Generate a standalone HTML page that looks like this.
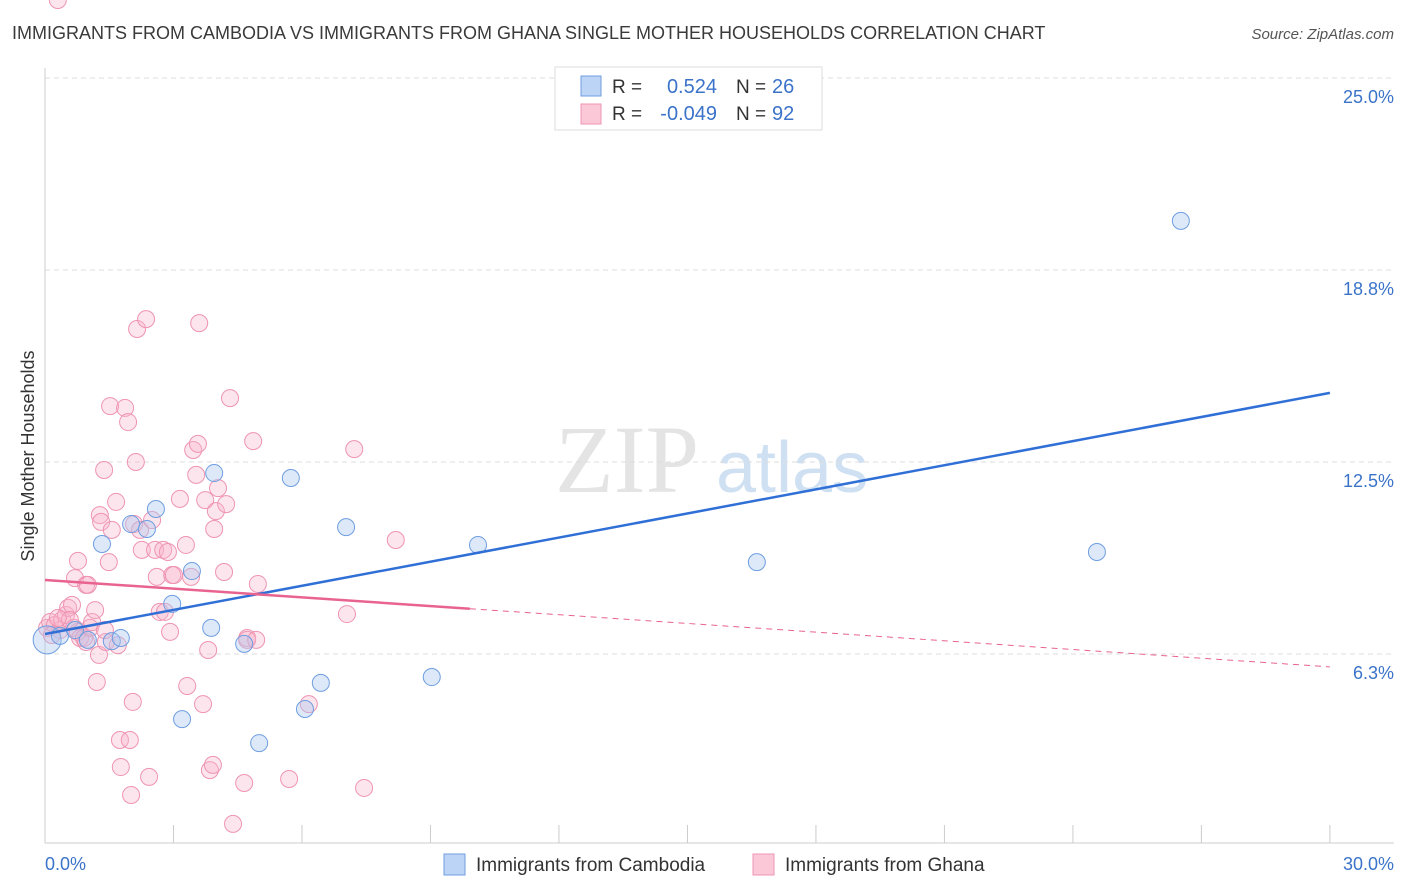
<!DOCTYPE html>
<html><head><meta charset="utf-8"><style>
body{margin:0;background:#fff;font-family:"Liberation Sans",sans-serif;}
svg{display:block}
</style></head><body>
<svg width="1406" height="892">
<text x="12" y="39" font-size="18" fill="#3a3a3a">IMMIGRANTS FROM CAMBODIA VS IMMIGRANTS FROM GHANA SINGLE MOTHER HOUSEHOLDS CORRELATION CHART</text>
<text x="1394" y="39" font-size="15" fill="#555" font-style="italic" text-anchor="end">Source: ZipAtlas.com</text>
<text x="555" y="492" font-size="96" fill="#e4e4e4" font-family="Liberation Serif">ZIP</text>
<text x="716" y="492" font-size="72" fill="#cfe0f3">atlas</text>
<g id="grid"></g>
<g id="axes"></g>
<g id="pink"></g>
<g id="blue"></g>
<g id="lines"></g>
<text transform="translate(34,456) rotate(-90)" font-size="18" fill="#333" text-anchor="middle">Single Mother Households</text>
<text x="45" y="870" font-size="18" fill="#3b73c9">0.0%</text>
<text x="1394" y="870" font-size="18" fill="#3b73c9" text-anchor="end">30.0%</text>
<g>
<rect x="555" y="67" width="267" height="63" fill="#fff" stroke="#ddd"/>
<rect x="581" y="76" width="20" height="20" fill="#bcd4f5" stroke="#6f9ee0"/>
<rect x="581" y="104" width="20" height="20" fill="#fbc8d8" stroke="#ee94b2"/>
<text x="612" y="93" font-size="19" fill="#333">R = </text><text x="717" y="93" font-size="20" fill="#3b73c9" text-anchor="end">0.524</text>
<text x="736" y="93" font-size="19" fill="#333">N = </text><text x="772" y="93" font-size="20" fill="#3b73c9">26</text>
<text x="612" y="120" font-size="19" fill="#333">R = </text><text x="717" y="120" font-size="20" fill="#3b73c9" text-anchor="end">-0.049</text>
<text x="736" y="120" font-size="19" fill="#333">N = </text><text x="772" y="120" font-size="20" fill="#3b73c9">92</text>
</g>
<g>
<rect x="444" y="854" width="21" height="21" fill="#bcd4f5" stroke="#6f9ee0"/>
<text x="476" y="871" font-size="19" fill="#333">Immigrants from Cambodia</text>
<rect x="753" y="854" width="21" height="21" fill="#fbc8d8" stroke="#ee94b2"/>
<text x="785" y="871" font-size="19" fill="#333">Immigrants from Ghana</text>
</g>
</svg>
<script>
const yTicks=[25.0,18.75,12.5,6.25];
const yTickLabels=["25.0%","18.8%","12.5%","6.3%"];
const blueX=[0.05,0.35,0.7,1.0,1.33,1.56,1.77,2.01,2.38,2.59,2.97,3.43,3.2,3.88,3.95,4.65,5.0,5.74,6.07,6.44,7.03,9.03,10.11,16.62,24.56,26.52];
const blueY=[6.71,6.84,7.03,6.71,9.83,6.67,6.77,10.48,10.32,10.97,7.88,8.95,4.13,7.10,12.14,6.58,3.35,11.98,4.46,5.31,10.38,5.50,9.80,9.24,9.57,20.35];
const pinkX=[0.05,0.12,0.23,0.35,0.4,0.49,0.54,0.63,0.68,0.77,0.82,0.58,0.3,0.16,0.91,0.96,1.05,1.1,1.17,1.21,1.26,1.28,1.31,1.38,1.42,1.49,1.52,1.56,1.66,1.7,1.75,1.77,1.87,1.94,1.98,2.01,2.05,2.08,2.12,2.15,2.22,2.26,2.36,2.43,2.5,2.57,2.61,2.68,2.76,2.8,2.87,2.92,2.97,3.01,3.15,3.29,3.32,3.41,3.46,3.53,3.57,3.6,3.69,3.74,3.81,3.85,3.92,3.95,3.99,4.04,4.18,4.23,4.32,4.39,4.65,4.72,4.72,4.86,4.93,4.97,5.7,6.16,7.05,7.22,7.45,8.19,0.7,0.77,0.96,1.0,1.4,0.3];
const pinkY=[7.10,7.29,7.19,7.03,7.36,7.52,7.75,7.85,7.10,6.97,6.77,7.36,7.42,6.87,6.77,6.64,7.10,7.29,7.68,5.34,6.22,10.77,10.55,12.24,6.64,9.24,14.32,10.29,11.20,6.54,3.45,2.57,14.26,13.80,3.45,1.66,4.69,10.48,12.50,16.83,10.29,9.64,17.15,2.25,10.61,9.64,8.76,7.62,9.64,7.62,9.57,6.97,8.82,8.82,11.30,9.80,5.21,8.76,12.89,12.08,13.09,17.02,4.62,11.26,6.38,2.47,2.64,10.32,10.90,11.65,8.92,11.13,14.58,0.72,2.05,6.77,6.71,13.18,6.71,8.53,2.18,4.62,7.55,12.92,1.89,9.96,8.72,9.28,8.50,8.50,7.03];
const blueLine=[6.90,14.75];
const pinkLine=[8.66,5.83];
const sx=v=>45+v*42.83, sy=v=>78+(25-v)*30.72;
const NS="http://www.w3.org/2000/svg";
function mk(tag,attrs,parent){const e=document.createElementNS(NS,tag);for(const k in attrs)e.setAttribute(k,attrs[k]);parent.appendChild(e);return e;}
const grid=document.getElementById('grid'),axes=document.getElementById('axes');
yTicks.forEach((t,i)=>{
 const l=mk('line',{x1:45,x2:1394,y1:sy(t),y2:sy(t),stroke:'#ddd','stroke-dasharray':'5,4'},grid);
 
 
 const tx=mk('text',{x:1394,y:sy(t)+25,'font-size':18,fill:'#3b73c9','text-anchor':'end'},grid);
 tx.textContent=yTickLabels[i];
 
 
});
const ax=mk('line',{x1:45,x2:1394,y1:843,y2:843,stroke:'#ccc'},axes);


const ay=mk('line',{x1:45,x2:45,y1:68,y2:843,stroke:'#ccc'},axes);


for(let i=0;i<=10;i++){const t=mk('line',{x1:sx(i*3),x2:sx(i*3),y1:825,y2:843,stroke:'#ccc'},axes);
 
 }
const pg=document.getElementById('pink');
pinkX.forEach((x,i)=>{const c=mk('circle',{cx:sx(x),cy:sy(pinkY[i]),r:8.5,fill:'rgba(248,180,202,0.35)',stroke:'#ee94b2','stroke-width':1},pg);
 
 });
const bg=document.getElementById('blue');
blueX.forEach((x,i)=>{const c=mk('circle',{cx:sx(x),cy:sy(blueY[i]),r:i==0?14:8.5,fill:'rgba(170,200,240,0.4)',stroke:'#6f9ee0','stroke-width':1},bg);
 
 });
const lg=document.getElementById('lines');
const bl=mk('line',{x1:sx(0),y1:sy(blueLine[0]),x2:sx(30),y2:sy(blueLine[1]),stroke:'#2f6fd6','stroke-width':2.5},lg);


const pv=x=>pinkLine[0]+(pinkLine[1]-pinkLine[0])*x/30;
const pl=mk('line',{x1:sx(0),y1:sy(pv(0)),x2:sx(9.92),y2:sy(pv(9.92)),stroke:'#e8638f','stroke-width':2.5},lg);


const pd=mk('line',{x1:sx(9.92),y1:sy(pv(9.92)),x2:sx(30),y2:sy(pv(30)),stroke:'#e8638f','stroke-width':1,'stroke-dasharray':'6,5'},lg);


</script>
</body></html>
